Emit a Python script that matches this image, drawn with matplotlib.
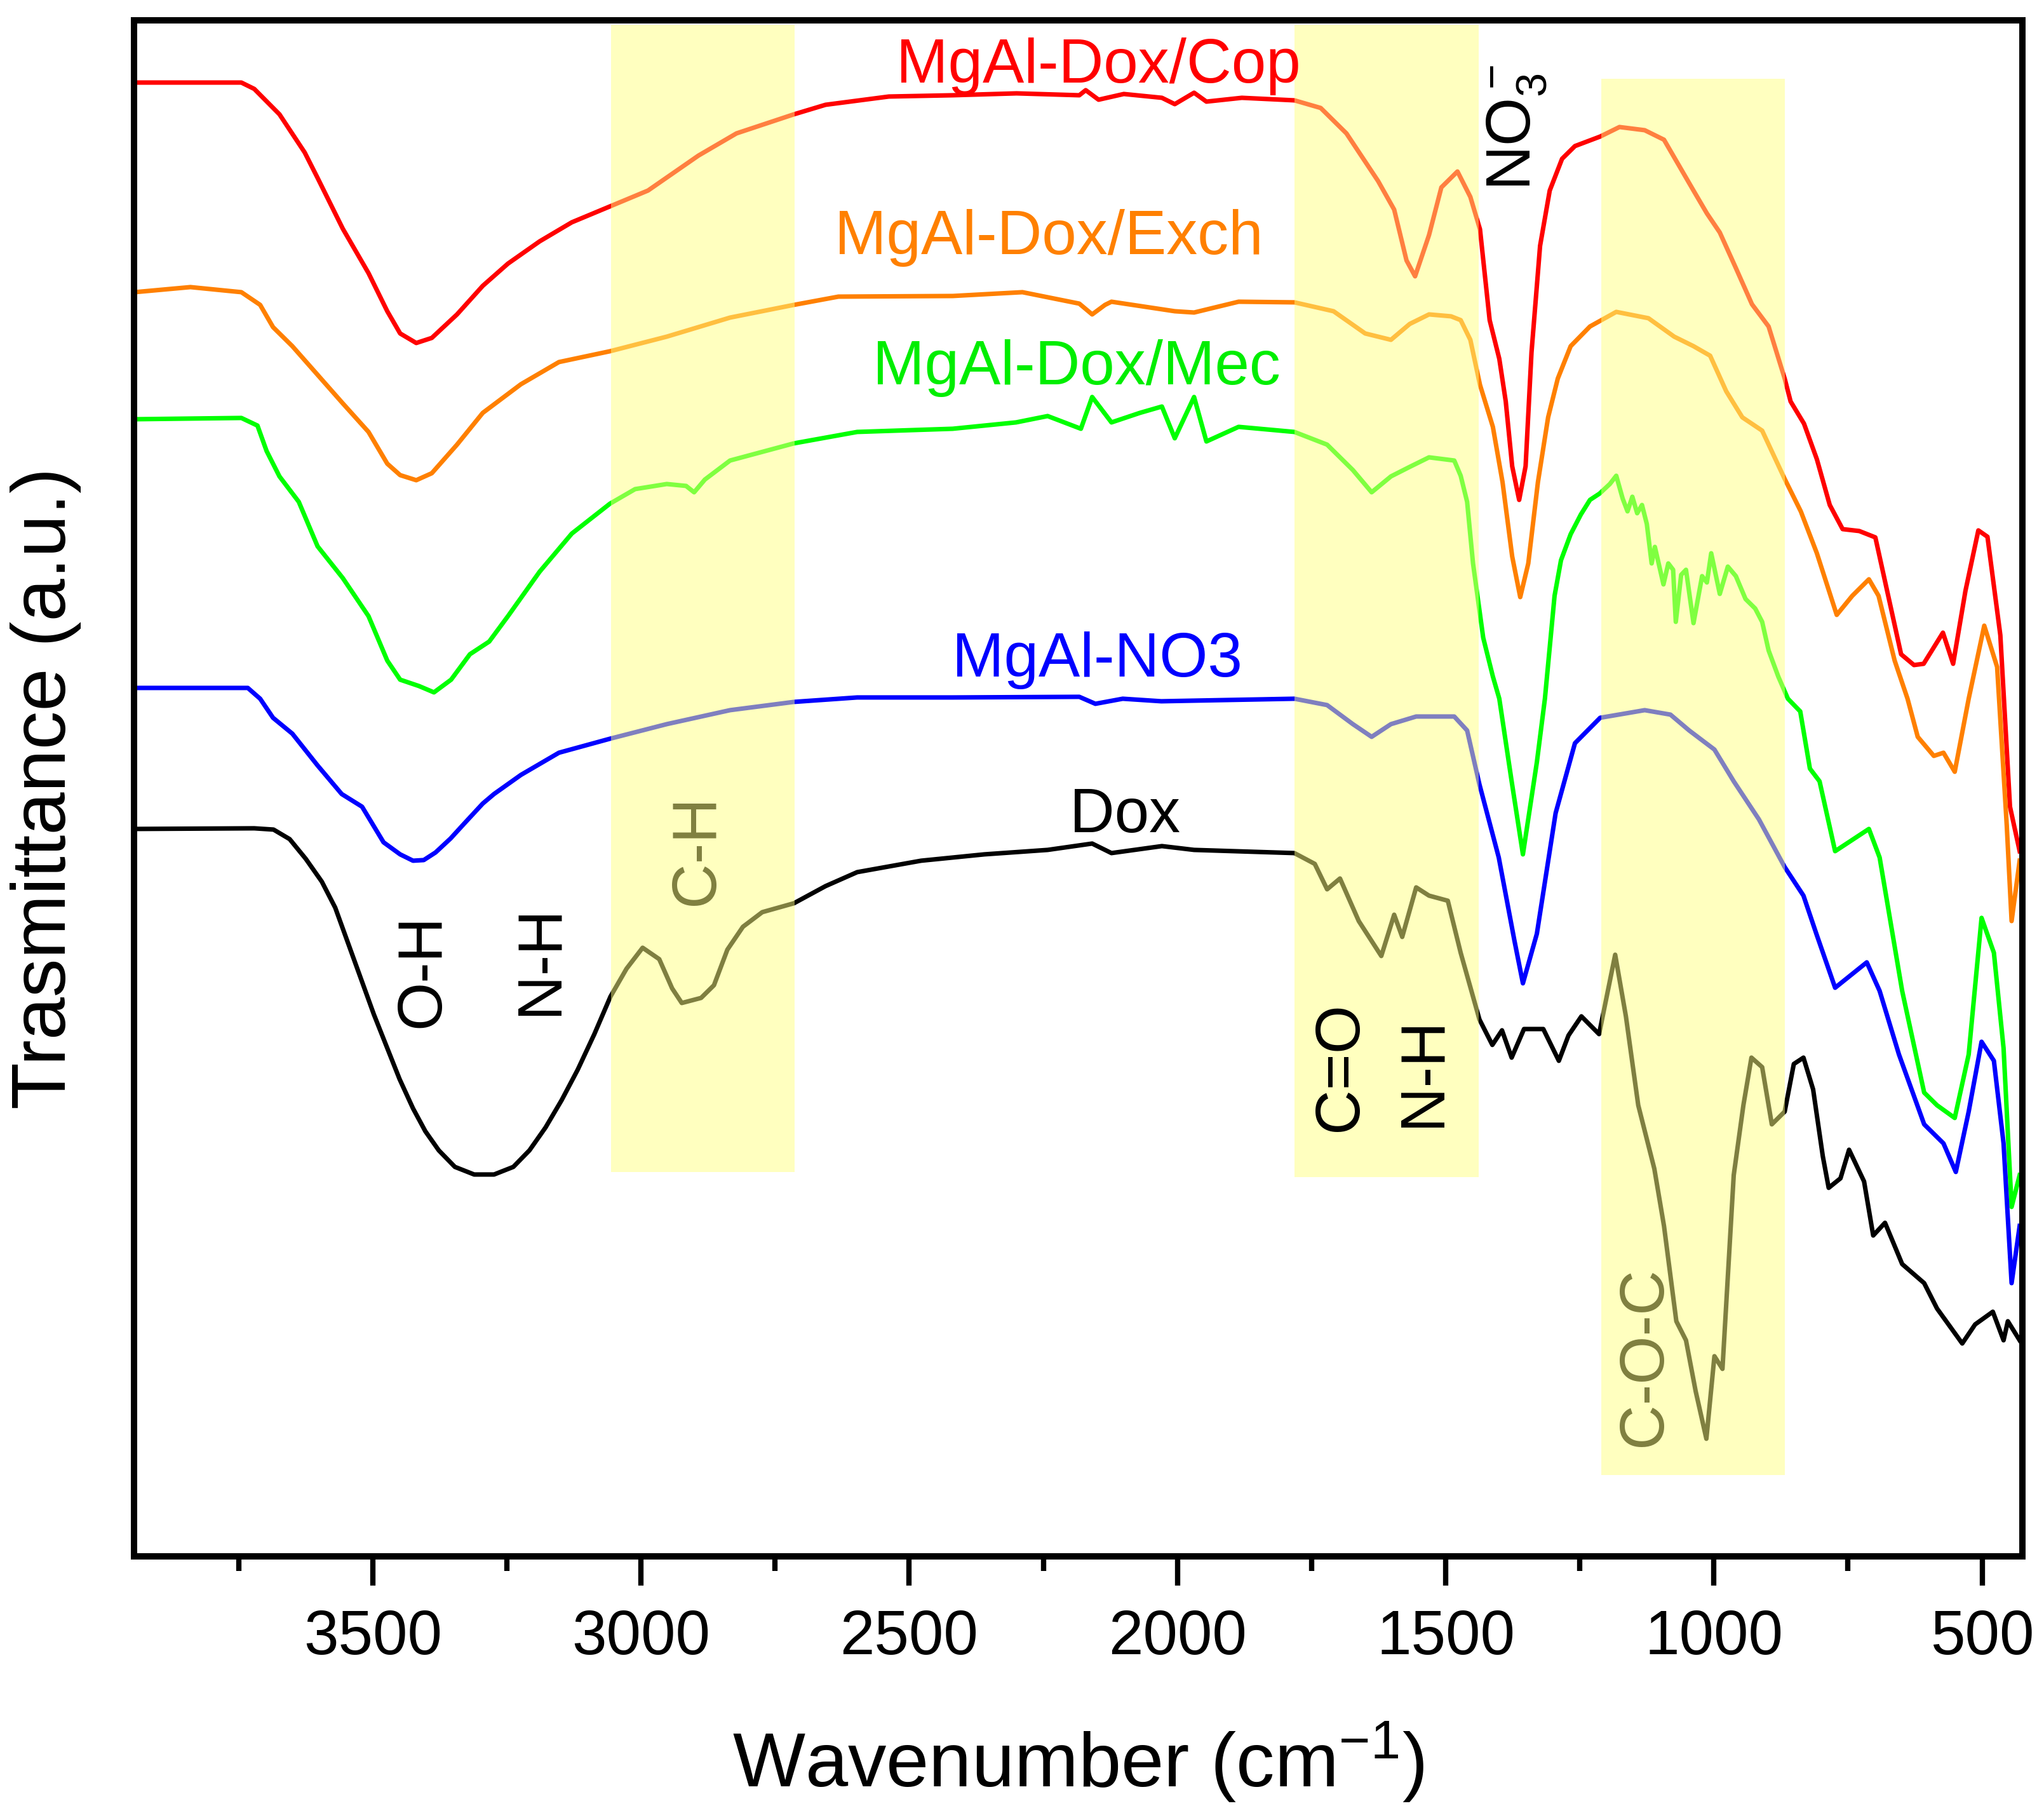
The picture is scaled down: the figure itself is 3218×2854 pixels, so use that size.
import numpy as np
import matplotlib
matplotlib.use("Agg")
import matplotlib.pyplot as plt
from matplotlib.ticker import MultipleLocator

plt.rcParams['font.family'] = ['Liberation Sans', 'DejaVu Sans']
plt.rcParams['mathtext.fontset'] = 'custom'
plt.rcParams['mathtext.rm'] = 'Liberation Sans'
plt.rcParams['mathtext.it'] = 'Liberation Sans:italic'

# FTIR spectra: wavenumber (cm-1) and transmittance (a.u.)
cop_wn = [3944, 3745, 3721, 3674, 3627, 3603, 3556, 3508, 3473, 3449, 3419, 3390, 3343, 3295,
          3248, 3189, 3129, 3058, 2987, 2893, 2822, 2715, 2656, 2538, 2419, 2300, 2183, 2171,
          2147, 2100, 2029, 2005, 1969, 1946, 1880, 1782, 1733, 1685, 1626, 1596, 1573, 1557,
          1531, 1508, 1478, 1454, 1436, 1418, 1400, 1388, 1376, 1363, 1351, 1340, 1324, 1306,
          1283, 1259, 1212, 1176, 1129, 1093, 1038, 1013, 989, 959, 929, 898, 868, 857, 832,
          808, 784, 760, 729, 699, 675, 651, 627, 609, 573, 554, 531, 507, 490, 466, 448, 430]
cop_t = [232.0, 232.0, 231.0, 227.0, 221.0, 217.0, 209.0, 202.0, 196.0, 192.5, 191.0, 191.8,
         195.5, 200.0, 203.5, 207.0, 210.0, 212.5, 215.0, 220.5, 224.0, 227.0, 228.5, 229.8,
         230.0, 230.3, 230.0, 230.8, 229.3, 230.2, 229.6, 228.6, 230.4, 229.0, 229.6, 229.2,
         228.0, 224.0, 216.5, 212.0, 204.0, 201.5, 208.0, 215.5, 218.0, 214.0, 208.9, 194.6,
         188.5, 181.8, 171.6, 166.3, 171.6, 189.5, 206.3, 215.0, 220.0, 222.0, 223.5, 225.0,
         224.5, 223.0, 215.0, 211.4, 208.4, 202.8, 197.1, 193.6, 185.4, 181.8, 178.3, 172.7,
         165.5, 161.7, 161.4, 160.4, 151.2, 142.0, 140.3, 140.5, 145.4, 140.5, 152.0, 161.5,
         160.5, 145.0, 118.0, 111.0]

exch_wn = [3944, 3840, 3745, 3710, 3686, 3650, 3603, 3556, 3508, 3473, 3449, 3419, 3390, 3343,
           3295, 3224, 3153, 3058, 2952, 2834, 2715, 2632, 2419, 2289, 2183, 2159, 2135, 2123,
           2005, 1969, 1886, 1782, 1709, 1650, 1602, 1567, 1531, 1490, 1472, 1454, 1436, 1412,
           1394, 1376, 1361, 1346, 1328, 1309, 1291, 1267, 1231, 1182, 1122, 1074, 1038, 1007,
           977, 947, 910, 868, 838, 808, 771, 742, 711, 693, 663, 639, 620, 590, 572, 551, 525,
           496, 472, 454, 445, 430]
exch_t = [199.0, 199.8, 199.0, 197.0, 193.5, 190.5, 186.0, 181.5, 177.0, 172.0, 170.2, 169.4,
          170.5, 175.0, 180.0, 184.5, 188.0, 189.7, 192.0, 195.0, 197.0, 198.3, 198.4, 199.0,
          197.2, 195.5, 197.0, 197.5, 196.0, 195.8, 197.5, 197.4, 196.0, 192.5, 191.5, 194.0,
          195.5, 195.2, 194.6, 191.5, 184.4, 177.8, 169.1, 157.4, 151.0, 156.3, 169.1, 179.3,
          185.4, 190.5, 193.6, 195.9, 194.9, 192.0, 190.5, 189.0, 183.4, 179.3, 177.2, 169.6,
          164.5, 157.9, 148.2, 151.2, 153.8, 151.2, 141.0, 135.0, 129.0, 126.0, 126.5, 123.5,
          135.0, 146.5, 140.0, 115.0, 100.0, 109.5]

mec_wn = [3944, 3745, 3715, 3698, 3674, 3638, 3603, 3556, 3508, 3473, 3449, 3414, 3386, 3354,
          3319, 3283, 3248, 3189, 3129, 3058, 3011, 2952, 2916, 2901, 2881, 2834, 2715, 2597,
          2419, 2301, 2242, 2180, 2159, 2123, 2070, 2029, 2005, 1969, 1946, 1886, 1782, 1721,
          1673, 1638, 1602, 1567, 1531, 1484, 1472, 1460, 1449, 1430, 1412, 1400, 1377, 1356,
          1330, 1315, 1297, 1285, 1267, 1248, 1231, 1213, 1194, 1182, 1170, 1161, 1152, 1143,
          1134, 1125, 1116, 1110, 1094, 1085, 1076, 1071, 1061, 1052, 1038, 1022, 1013, 1005,
          989, 974, 959, 941, 923, 910, 898, 880, 862, 839, 821, 803, 774, 738, 711, 691, 649,
          608, 584, 551, 525, 501, 478, 460, 445, 430]
mec_t = [179.0, 179.2, 178.0, 174.0, 170.0, 166.0, 159.0, 154.0, 148.0, 141.0, 138.0, 137.0,
         136.0, 138.0, 142.0, 144.0, 148.0, 155.0, 161.0, 165.7, 168.0, 168.8, 168.5, 167.5,
         169.5, 172.5, 175.2, 177.0, 177.5, 178.5, 179.5, 177.5, 182.5, 178.5, 180.0, 181.0,
         176.0, 182.5, 175.5, 177.8, 177.0, 175.0, 171.0, 167.5, 170.0, 171.5, 173.0, 172.5,
         170.1, 166.0, 156.3, 144.6, 138.5, 135.0, 122.0, 110.5, 125.0, 135.0, 151.2, 156.8,
         160.9, 164.0, 166.3, 167.3, 168.8, 170.1, 166.5, 164.5, 166.8, 164.2, 165.5, 162.5,
         156.3, 158.9, 153.0, 156.3, 155.3, 147.1, 154.5, 155.3, 146.9, 154.3, 153.3, 157.9,
         151.5, 155.8, 154.3, 150.7, 149.2, 147.1, 142.6, 138.5, 135.0, 133.0, 124.0, 122.0,
         111.0, 113.0, 114.5, 110.0, 89.0, 73.0, 71.0, 69.0, 79.0, 100.5, 95.0, 80.0, 55.0,
         60.0]

no3_wn = [3944, 3733, 3710, 3686, 3650, 3603, 3558, 3520, 3480, 3449, 3425, 3405, 3383, 3355,
          3329, 3295, 3274, 3224, 3153, 3058, 2952, 2834, 2715, 2597, 2419, 2183, 2153, 2102,
          2030, 1782, 1721, 1673, 1638, 1602, 1555, 1484, 1460, 1437, 1401, 1372, 1356, 1330,
          1295, 1259, 1212, 1129, 1081, 1046, 999, 963, 916, 868, 833, 809, 774, 715, 691, 655,
          608, 572, 549, 525, 501, 478, 460, 445, 430]
no3_t = [136.7, 136.7, 135.0, 132.0, 129.5, 124.5, 120.0, 118.0, 112.4, 110.5, 109.5, 109.6,
         110.8, 113.0, 115.4, 118.5, 120.0, 123.0, 126.5, 128.7, 131.0, 133.2, 134.5, 135.2,
         135.2, 135.3, 134.2, 135.0, 134.6, 135.0, 134.0, 131.0, 129.0, 131.0, 132.2, 132.2,
         130.0, 121.5, 110.0, 97.0, 90.2, 98.0, 117.0, 128.0, 132.0, 133.2, 132.5, 130.0,
         127.0, 122.0, 116.0, 108.5, 104.0, 98.0, 89.5, 93.5, 89.0, 79.0, 68.0, 65.0, 60.5,
         70.0, 81.0, 78.0, 65.0, 43.0, 52.0]

dox_wn = [3944, 3721, 3685, 3655, 3625, 3595, 3570, 3546, 3522, 3498, 3474, 3450, 3425, 3402,
          3377, 3347, 3311, 3274, 3238, 3208, 3178, 3148, 3118, 3087, 3057, 3027, 2997, 2966,
          2942, 2924, 2888, 2864, 2839, 2810, 2774, 2715, 2656, 2597, 2478, 2360, 2242, 2159,
          2123, 2029, 1969, 1782, 1744, 1721, 1697, 1662, 1620, 1596, 1581, 1555, 1531, 1496,
          1472, 1437, 1413, 1395, 1377, 1354, 1318, 1289, 1271, 1247, 1214, 1184, 1164, 1141,
          1111, 1093, 1070, 1052, 1034, 1014, 999, 984, 963, 945, 930, 910, 892, 868, 851, 833,
          815, 797, 786, 764, 748, 720, 703, 681, 649, 608, 584, 537, 513, 480, 460, 452, 430]
dox_t = [114.5, 114.6, 114.4, 112.9, 109.8, 106.2, 102.1, 96.5, 90.9, 85.3, 80.2, 75.1, 70.5,
         66.9, 63.9, 61.3, 60.1, 60.1, 61.3, 63.9, 67.5, 71.8, 76.6, 82.2, 88.1, 92.5, 95.8,
         94.0, 89.4, 87.1, 87.9, 89.9, 95.5, 99.1, 101.4, 102.8, 105.5, 107.7, 109.5, 110.5,
         111.2, 112.2, 110.7, 111.8, 111.2, 110.7, 109.0, 105.0, 106.7, 100.0, 94.5, 101.0,
         97.5, 105.3, 104.0, 103.2, 95.0, 84.5, 80.5, 82.8, 78.5, 83.0, 83.0, 78.0, 82.0, 85.0,
         82.2, 94.7, 85.0, 71.0, 61.0, 52.0, 37.0, 34.0, 26.0, 18.5, 31.5, 29.5, 60.0, 71.0,
         78.5, 77.0, 68.0, 70.0, 77.5, 78.5, 73.5, 63.0, 58.0, 59.5, 64.0, 59.0, 50.5, 52.5,
         46.0, 43.0, 39.0, 33.5, 36.5, 38.5, 34.0, 37.0, 34.0]

# highlighted regions (cm-1) and their vertical extent (axes fraction)
band_lo = [2714, 1438, 868]
band_hi = [3056, 1782, 1210]
band_ymin = [0.250, 0.247, 0.053]
band_ymax = [0.997, 0.997, 0.962]

fig = plt.figure(figsize=(3218 / 300, 2854 / 300), dpi=300)
ax = fig.add_axes([0.0656, 0.1416, 0.9238, 0.8472])

lw = 1.7
ax.plot(cop_wn, cop_t, color='#ff0000', lw=lw, zorder=2)
ax.plot(exch_wn, exch_t, color='#ff8000', lw=lw, zorder=2)
ax.plot(mec_wn, mec_t, color='#00ff00', lw=lw, zorder=2)
ax.plot(no3_wn, no3_t, color='#0000ff', lw=lw, zorder=2)
ax.plot(dox_wn, dox_t, color='black', lw=lw, zorder=2)

for lo, hi, y0, y1 in zip(band_lo, band_hi, band_ymin, band_ymax):
    ax.axvspan(hi, lo, ymin=y0, ymax=y1, color=(1, 1, 0.5), alpha=0.5, lw=0, zorder=3)

fs = 23.5
ax.text(2147, 232, 'MgAl-Dox/Cop', color='#ff0000', fontsize=fs, ha='center', va='baseline', zorder=4)
ax.text(2240, 205, 'MgAl-Dox/Exch', color='#ff8000', fontsize=fs, ha='center', va='baseline', zorder=4)
ax.text(2188, 184.5, 'MgAl-Dox/Mec', color='#00ee00', fontsize=fs, ha='center', va='baseline', zorder=4)
ax.text(2150, 138.5, 'MgAl-NO3', color='#0000ff', fontsize=fs, ha='center', va='baseline', zorder=4)
ax.text(2098, 114, 'Dox', color='black', fontsize=fs, ha='center', va='baseline', zorder=4)

ax.text(1342, 215, 'NO$_3^-$', fontsize=fs, rotation=90, rotation_mode='anchor',
        ha='left', va='baseline', zorder=4)
ax.text(3406, 92.2, 'O-H', fontsize=fs, rotation=90, ha='center', va='center', zorder=4)
ax.text(3187, 93.9, 'N-H', fontsize=fs, rotation=90, ha='center', va='center', zorder=4)
ax.text(2896, 111.2, 'C-H', fontsize=fs, rotation=90, ha='center', va='center', zorder=2.5)
ax.text(1696, 77.1, 'C=O', fontsize=fs, rotation=90, ha='center', va='center', zorder=4)
ax.text(1541, 76.3, 'N-H', fontsize=fs, rotation=90, ha='center', va='center', zorder=4)
ax.text(1129, 31.4, 'C-O-C', fontsize=fs, rotation=90, ha='center', va='center', zorder=2.5)

ax.set_xlim(3945, 425)
ax.set_ylim(0, 241.8)
ax.xaxis.set_major_locator(MultipleLocator(500))
ax.xaxis.set_minor_locator(MultipleLocator(250))
ax.set_yticks([])
ax.tick_params(axis='x', which='major', length=11, width=2.0, labelsize=fs, pad=9)
ax.tick_params(axis='x', which='minor', length=5.5, width=2.0)
for s in ax.spines.values():
    s.set_linewidth(2.4)

ax.set_xlabel('Wavenumber (cm$^{-1}$)', fontsize=29, labelpad=20)
ax.set_ylabel('Trasmittance (a.u.)', fontsize=29, labelpad=20)

fig.savefig('out.png', dpi=300)
